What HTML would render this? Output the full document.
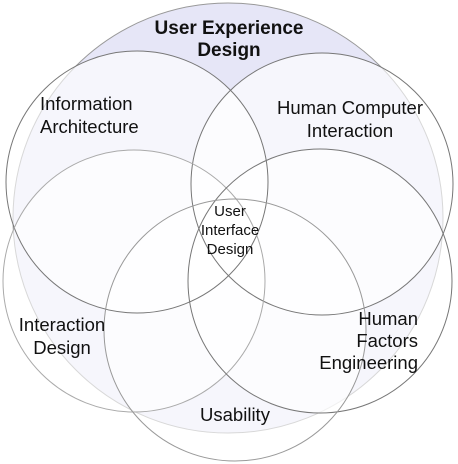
<!DOCTYPE html>
<html><head><style>body{margin:0;background:#fff}svg{display:block}text{font-family:"Liberation Sans",Arial,sans-serif;fill:#111}</style></head>
<body>
<svg width="458" height="464" viewBox="0 0 458 464">
<circle cx="228" cy="218" r="215" fill="#e6e6f7" stroke="#999" stroke-width="1"/>
<g fill="#fff" fill-opacity="0.62" stroke="none">
<circle cx="137" cy="182" r="131"/>
<circle cx="322" cy="184" r="131"/>
<circle cx="134" cy="281" r="131"/>
<circle cx="320" cy="281" r="132"/>
<circle cx="235" cy="330" r="131"/>
</g>
<g fill="none" stroke-width="1">
<circle cx="137" cy="182" r="131" stroke="#777"/>
<circle cx="322" cy="184" r="131" stroke="#777"/>
<circle cx="134" cy="281" r="131" stroke="#aaa"/>
<circle cx="320" cy="281" r="132" stroke="#777"/>
<circle cx="235" cy="330" r="131" stroke="#999"/>
</g>
<text x="229" y="34" font-size="19" font-weight="bold" text-anchor="middle">User Experience</text>
<text x="229" y="56" font-size="19" font-weight="bold" text-anchor="middle">Design</text>
<text x="40" y="110" font-size="18.5">Information</text>
<text x="40" y="133" font-size="18.5">Architecture</text>
<text x="350" y="114" font-size="18.5" text-anchor="middle">Human Computer</text>
<text x="350" y="137" font-size="18.5" text-anchor="middle">Interaction</text>
<text x="230" y="216" font-size="15" text-anchor="middle">User</text>
<text x="230" y="235" font-size="15" text-anchor="middle">Interface</text>
<text x="230" y="254" font-size="15" text-anchor="middle">Design</text>
<text x="62" y="331" font-size="18.5" text-anchor="middle">Interaction</text>
<text x="62" y="354" font-size="18.5" text-anchor="middle">Design</text>
<text x="418" y="325" font-size="18.5" text-anchor="end">Human</text>
<text x="418" y="347" font-size="18.5" text-anchor="end">Factors</text>
<text x="418" y="369" font-size="18.5" text-anchor="end">Engineering</text>
<text x="235" y="421" font-size="18.5" text-anchor="middle">Usability</text>
</svg>
</body></html>
